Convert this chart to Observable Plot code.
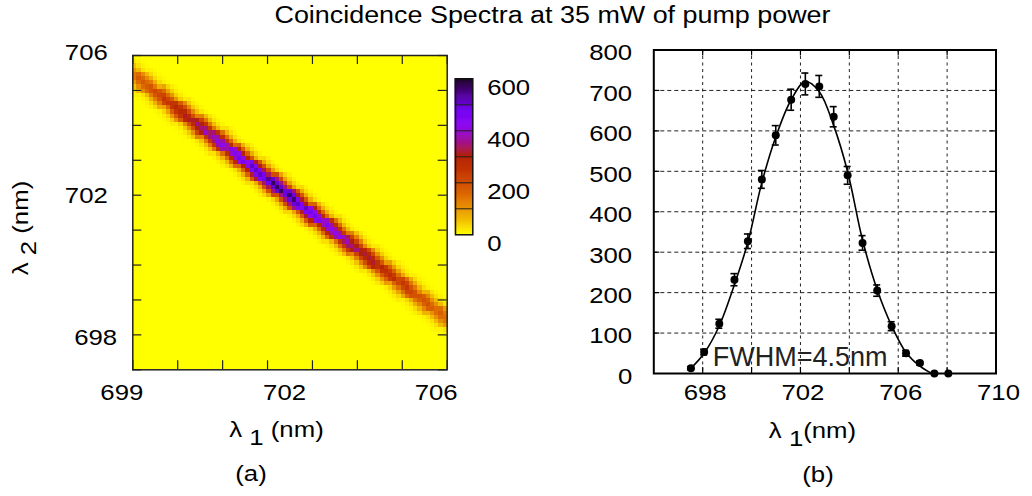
<!DOCTYPE html>
<html><head><meta charset="utf-8">
<script src="https://cdn.jsdelivr.net/npm/d3@7"></script>
<script src="https://cdn.jsdelivr.net/npm/@observablehq/plot@0.6"></script>
<style>
html,body{margin:0;padding:0;background:#fff;}
#page{position:relative;width:1032px;height:496px;overflow:hidden;font-family:"Liberation Sans",Arial,sans-serif;}
#page > svg{position:absolute;}
</style></head><body><div id="page"></div>
<script>
// ---------- text ----------
const titleText = "Coincidence Spectra at 35 mW of pump power";
const fwhmText = "FWHM=4.5nm";

// ---------- panel (a): joint spectrum ----------
const heatXTicks = [699, 700, 701, 702, 703, 704, 705, 706];
const heatYTicks = [697, 698, 699, 700, 701, 702, 703, 704, 705, 706];
const heatXLabels = [699, 702, 706];
const heatYLabels = [698, 702, 706];
const diagSum = 1404.45; // lambda1 + lambda2 along the band
const envX = [699.00, 699.25, 699.50, 699.75, 700.00, 700.25, 700.50, 700.75, 701.00, 701.25, 701.50, 701.75, 702.00, 702.25, 702.50, 702.75, 703.00, 703.25, 703.50, 703.75, 704.00, 704.25, 704.50, 704.75, 705.00, 705.25, 705.50, 705.75, 706.00];
const envPeak = [150, 175, 210, 245, 280, 315, 350, 390, 420, 445, 470, 510, 540, 570, 560, 510, 470, 445, 420, 385, 350, 320, 290, 265, 240, 215, 190, 170, 150];
const bandOffset = [-0.6, -0.5, -0.4, -0.3, -0.2, -0.1, 0, 0.1, 0.2, 0.3, 0.4, 0.5, 0.6];
const bandWeight = [0.02, 0.06, 0.15, 0.35, 0.62, 0.88, 1, 0.88, 0.62, 0.35, 0.15, 0.06, 0.02];
const gridCount = 75;

// colour bar
const colorbarTicks = [0, 200, 400, 600];
const colorbarLines = [100, 200, 300, 400, 500];
const paletteStops = [0, 60, 120, 180, 240, 300, 360, 420, 480, 540, 600];
const paletteColors = ["#ffff00", "#f2ba00", "#e48300", "#d55700", "#c53700", "#b42000", "#a11096", "#8c07f2", "#7202f2", "#510096", "#1a0020"];

// ---------- panel (b): single-arm spectrum ----------
const specX = [697.52, 698.06, 698.68, 699.30, 699.85, 700.42, 700.99, 701.62, 702.20, 702.77, 703.36, 703.93, 704.54, 705.14, 705.73, 706.32, 706.89, 707.48, 708.05];
const specY = [13, 53, 123, 232, 327, 480, 589, 677, 716, 710, 635, 490, 323, 205, 117, 50, 26, 0, 0];
const specErr = [4, 7, 11, 15, 18, 22, 24, 26, 27, 27, 25, 22, 18, 14, 11, 7, 5, 0, 0];
const fitX = [697.52, 698.06, 698.68, 699.30, 699.85, 700.42, 700.99, 701.62, 702.20, 702.77, 703.36, 703.93, 704.54, 705.14, 705.73, 706.32, 706.89, 707.37];
const fitY = [13, 50, 118, 220, 325, 472, 585, 677, 722, 697, 613, 499, 330, 207, 118, 52, 18, 0];
const specXTicks = [698, 702, 706, 710];
const specXGrid = [698, 700, 702, 704, 706, 708];
const specYTicks = [0, 100, 200, 300, 400, 500, 600, 700, 800];
const specYGrid = [100, 200, 300, 400, 500, 600, 700];

// ---------- build tables ----------
const cells = [];
{
  const x0 = heatXTicks[0], x1 = heatXTicks[heatXTicks.length - 1];
  const y0 = heatYTicks[0], y1 = heatYTicks[heatYTicks.length - 1];
  const cw = (x1 - x0) / gridCount, ch = (y1 - y0) / gridCount;
  for (let i = 0; i < gridCount; i++) {
    for (let j = 0; j < gridCount; j++) {
      const xa = x0 + i * cw, ya = y0 + j * ch;
      const xc = xa + cw / 2, yc = ya + ch / 2;
      const d = xc + yc - diagSum;
      const pi = d3.minIndex(bandOffset, t => Math.abs(t - d));
      const w = Math.abs(d) <= 0.65 ? bandWeight[pi] : 0;
      const ei = d3.minIndex(envX, t => Math.abs(t - xc));
      cells.push({x1: xa, x2: xa + cw, y1: ya, y2: ya + ch, v: envPeak[ei] * w});
    }
  }
}
const spec = specX.map((x, i) => ({x, y: specY[i], e: specErr[i]}));
const specBars = spec.filter(d => d.e > 0);
const fit = fitX.map((x, i) => ({x, y: fitY[i]}));
const cbSteps = d3.range(paletteStops[0], paletteStops[paletteStops.length - 1], 2);

const colorScale = {type: "linear", domain: paletteStops, range: paletteColors, interpolate: "rgb", clamp: true};
const FONT = "Liberation Sans, Arial, sans-serif";
const baseStyle = {fontFamily: FONT, fontSize: "23px", background: "transparent", color: "#000", overflow: "visible"};
const STRETCH = 1.12;

function stretch(svg, f) {
  svg.querySelectorAll("text").forEach(t => {
    const tr = t.getAttribute("transform") || "";
    t.setAttribute("transform", tr + ` scale(${f},1)`);
  });
}
function place(el, left, top) {
  el.style.left = left + "px";
  el.style.top = top + "px";
  document.getElementById("page").appendChild(el);
  return el;
}

// ---------- panel (a) ----------
{
  const W = 520, H = 420, mL = 132.3, mR = 73.3, mT = 55, mB = 50.7;
  const FW = W - mL - mR, FH = H - mT - mB, tk = 9;
  const fmt = d => String(d);
  const chart = Plot.plot({
    width: W, height: H, marginLeft: mL, marginRight: mR, marginTop: mT, marginBottom: mB,
    style: baseStyle,
    x: {domain: [heatXTicks[0], heatXTicks[heatXTicks.length - 1]]},
    y: {domain: [heatYTicks[0], heatYTicks[heatYTicks.length - 1]]},
    color: colorScale,
    marks: [
      Plot.rect(cells, {x1: "x1", x2: "x2", y1: "y1", y2: "y2", fill: "v", shapeRendering: "crispEdges"}),
      Plot.ruleX(heatXTicks, {insetTop: FH - tk, stroke: "#222", strokeWidth: 1.2}),
      Plot.ruleX(heatXTicks, {insetBottom: FH - tk, stroke: "#222", strokeWidth: 1.2}),
      Plot.ruleY(heatYTicks, {insetRight: FW - tk, stroke: "#222", strokeWidth: 1.2}),
      Plot.ruleY(heatYTicks, {insetLeft: FW - tk, stroke: "#222", strokeWidth: 1.2}),
      Plot.frame({stroke: "#222", strokeWidth: 1.5}),
      Plot.axisX([heatXLabels[0]], {tickSize: 0, tickPadding: 13.5, dx: -11, tickFormat: fmt, label: null}),
      Plot.axisX([heatXLabels[1]], {tickSize: 0, tickPadding: 13.5, dx: 17, tickFormat: fmt, label: null}),
      Plot.axisX([heatXLabels[2]], {tickSize: 0, tickPadding: 13.5, dx: -11, tickFormat: fmt, label: null}),
      Plot.axisY([heatYLabels[0]], {tickSize: 0, tickPadding: 15.6, dy: 3, tickFormat: fmt, label: null}),
      Plot.axisY([heatYLabels[1]], {tickSize: 0, tickPadding: 25, tickFormat: fmt, label: null}),
      Plot.axisY([heatYLabels[2]], {tickSize: 0, tickPadding: 25, dy: -3, tickFormat: fmt, label: null})
    ]
  });
  place(chart, 0, 0);
  stretch(chart, STRETCH);
}

// ---------- colour bar ----------
{
  const W = 110, H = 200, mL = 15, mR = 77.7, mT = 18.3, mB = 25.7;
  const bar = Plot.plot({
    width: W, height: H, marginLeft: mL, marginRight: mR, marginTop: mT, marginBottom: mB,
    style: baseStyle,
    y: {domain: [paletteStops[0], paletteStops[paletteStops.length - 1]]},
    color: colorScale,
    marks: [
      Plot.rect(cbSteps, {y1: d => d, y2: d => d + 2, fill: d => d + 1, inset: -0.3}),
      Plot.ruleY(colorbarLines, {stroke: "#222", strokeWidth: 1}),
      Plot.frame({stroke: "#111", strokeWidth: 1.5}),
      Plot.axisY(colorbarTicks, {anchor: "right", tickSize: 0, tickPadding: 14.4, dy: 8.5, tickFormat: d => String(d), label: null})
    ]
  });
  place(bar, 440, 60);
  stretch(bar, STRETCH);
}

// ---------- panel (b) ----------
{
  const W = 472, H = 420, mL = 93.3, mR = 36.5, mT = 49.5, mB = 47;
  const FW = W - mL - mR, FH = H - mT - mB, tk = 6;
  const fmt = d => String(d);
  const chart = Plot.plot({
    width: W, height: H, marginLeft: mL, marginRight: mR, marginTop: mT, marginBottom: mB,
    style: baseStyle,
    x: {domain: [696, 710]},
    y: {domain: [specYTicks[0], specYTicks[specYTicks.length - 1]]},
    marks: [
      Plot.ruleX(specXGrid, {stroke: "#222", strokeWidth: 1, strokeDasharray: "3,3.5"}),
      Plot.ruleY(specYGrid, {stroke: "#222", strokeWidth: 1, strokeDasharray: "4,3"}),
      Plot.ruleX(specXGrid, {insetTop: FH - tk, stroke: "#000", strokeWidth: 1.2}),
      Plot.ruleX(specXGrid, {insetBottom: FH - tk, stroke: "#000", strokeWidth: 1.2}),
      Plot.ruleY(specYGrid, {insetRight: FW - tk, stroke: "#000", strokeWidth: 1.2}),
      Plot.ruleY(specYGrid, {insetLeft: FW - tk, stroke: "#000", strokeWidth: 1.2}),
      Plot.line(fit, {x: "x", y: "y", curve: "catmull-rom", stroke: "#000", strokeWidth: 1.6}),
      Plot.ruleX(specBars, {x: "x", y1: d => d.y - d.e, y2: d => d.y + d.e, stroke: "#000", strokeWidth: 1.6}),
      Plot.ruleY(specBars, {y: d => d.y - d.e, x1: "x", x2: "x", insetLeft: -3.5, insetRight: -3.5, stroke: "#000", strokeWidth: 1.6}),
      Plot.ruleY(specBars, {y: d => d.y + d.e, x1: "x", x2: "x", insetLeft: -3.5, insetRight: -3.5, stroke: "#000", strokeWidth: 1.6}),
      Plot.dot(spec, {x: "x", y: "y", r: 4, fill: "#000", stroke: "none"}),
      Plot.frame({stroke: "#000", strokeWidth: 2}),
      Plot.axisX(specXTicks, {tickSize: 0, tickPadding: 10, dx: 2.5, tickFormat: fmt, label: null}),
      Plot.axisY(specYTicks, {tickSize: 0, tickPadding: 21.6, dy: 3, tickFormat: fmt, label: null})
    ]
  });
  place(chart, 560, 0);
  stretch(chart, STRETCH);
}

// ---------- titles, axis titles, captions ----------
{
  const svg = d3.create("svg")
    .attr("width", 1032).attr("height", 496)
    .style("left", "0px").style("top", "0px").style("pointer-events", "none")
    .attr("font-family", FONT).attr("font-size", 23).attr("fill", "#000");
  const sub = 8;
  function label(x, y, rot, main, subscript, rest, f) {
    const t = svg.append("text")
      .attr("transform", `translate(${x},${y})${rot ? " rotate(" + rot + ")" : ""} scale(${f},1)`)
      .attr("text-anchor", "middle").style("white-space", "pre");
    t.append("tspan").text(main);
    t.append("tspan").attr("dy", sub).text(subscript);
    t.append("tspan").attr("dy", -sub).text(rest);
    return t;
  }
  svg.append("text")
    .attr("transform", `translate(552.5,23) scale(1.17,1)`)
    .attr("text-anchor", "middle").text(titleText);
  label(276.5, 437, 0, "λ ", "1", " (nm)", STRETCH);
  label(812.5, 438, 0, "λ ", "1", "(nm)", STRETCH);
  label(28.2, 228, -90, "λ ", "2", " (nm)", STRETCH);
  svg.append("text").attr("transform", `translate(251,480.5) scale(${STRETCH},1)`)
    .attr("text-anchor", "middle").text("(a)");
  svg.append("text").attr("transform", `translate(818,481.5) scale(${STRETCH},1)`)
    .attr("text-anchor", "middle").text("(b)");
  svg.append("text").attr("x", 712.7).attr("y", 366).attr("font-size", 27)
    .attr("fill", "#222").text(fwhmText);
  document.getElementById("page").appendChild(svg.node());
}
</script>
</body></html>
